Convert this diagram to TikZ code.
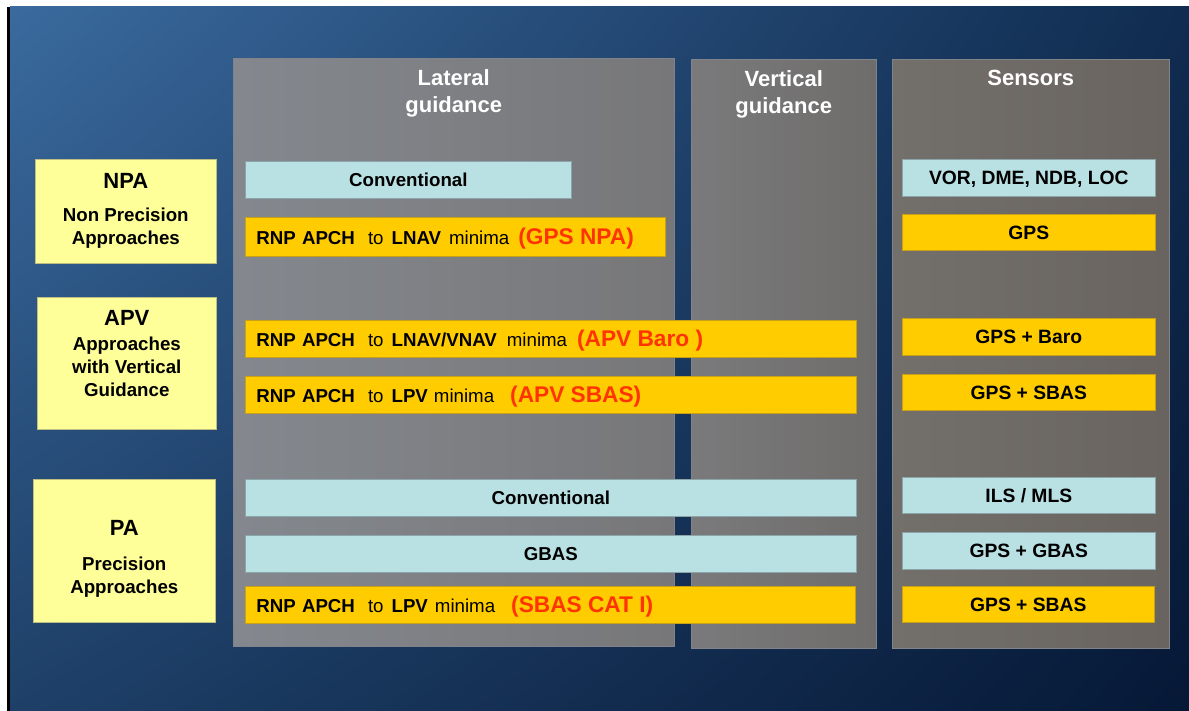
\documentclass[tikz,border=0pt]{standalone}
\usepackage{fontspec}
\setmainfont{Liberation Sans}
\usepackage{xcolor}
\usetikzlibrary{positioning,shadings}
\definecolor{bgtl}{RGB}{58,106,158}
\definecolor{bgtr}{RGB}{16,44,80}
\definecolor{bgbl}{RGB}{30,64,104}
\definecolor{bgbr}{RGB}{6,24,54}
\definecolor{latl}{RGB}{132,136,142}
\definecolor{latr}{RGB}{119,119,121}
\definecolor{vertl}{RGB}{122,122,124}
\definecolor{vertr}{RGB}{111,109,107}
\definecolor{sensl}{RGB}{115,111,107}
\definecolor{sensr}{RGB}{105,100,96}
\definecolor{panelline}{RGB}{128,131,137}
\definecolor{classfill}{RGB}{255,255,153}
\definecolor{classline}{RGB}{190,190,130}
\definecolor{convfill}{RGB}{185,224,227}
\definecolor{convline}{RGB}{140,165,170}
\definecolor{rnpfill}{RGB}{255,204,0}
\definecolor{rnpline}{RGB}{200,160,20}
\definecolor{rnpred}{RGB}{255,51,0}
\newcommand\redtag[1]{{\fontsize{22.7}{22}\selectfont\bfseries\color{rnpred}#1}}
\newcommand\minword[1]{{\mdseries #1}}

\begin{document}
\begin{tikzpicture}[x=1pt,y=-1pt,
 panel/.style={rectangle,draw=panelline,line width=0.5pt,anchor=north west,inner sep=0pt},
 headtext/.style={text=white,font=\fontsize{22}{27}\selectfont\bfseries,align=center},
 classbox/.style={rectangle,draw=classline,fill=classfill,line width=0.6pt,
   anchor=north west,align=center,font=\fontsize{18.7}{23}\selectfont\bfseries},
 convbox/.style={rectangle,draw=convline,fill=convfill,line width=0.6pt,
   anchor=north west,text height=14pt,text depth=0pt,
   font=\fontsize{18.7}{22}\selectfont\bfseries},
 rnpbox/.style={rectangle,draw=rnpline,fill=rnpfill,line width=0.6pt,
   anchor=north west,text height=14pt,text depth=0pt,
   font=\fontsize{18.7}{22}\selectfont\bfseries},
 sensfont/.style={font=\fontsize{19.3}{22}\selectfont\bfseries},
 rnprow/.style={rnpbox,align=left,inner xsep=11pt,text height=16pt}]
 \useasboundingbox (0,0) rectangle (1189,711);
 \fill[white] (0,0) rectangle (1189,711);
 \shade[upper left=bgtl,upper right=bgtr,lower left=bgbl,lower right=bgbr]
   (10,7) rectangle (1189,711);
 \fill[black] (7,7) rectangle (10,711);

 \node[panel,left color=latl,right color=latr,minimum width=441pt,minimum height=588pt]
   (latpanel) at (233,58) {};
 \node[panel,left color=vertl,right color=vertr,minimum width=185pt,minimum height=589pt]
   (vertpanel) at (691,59) {};
 \node[panel,left color=sensl,right color=sensr,minimum width=277pt,minimum height=589pt]
   (senspanel) at (892,59) {};
 \node[headtext,below=8pt of latpanel.north] (lathead) {Lateral\\guidance};
 \node[headtext,below=8pt of vertpanel.north] (verthead) {Vertical\\guidance};
 \node[headtext,below=8pt of senspanel.north] (senshead) {Sensors};

 \node[classbox,minimum width=181pt,minimum height=104pt] (npa) at (35,159)
   {{\fontsize{22}{22}\selectfont NPA}\\[10pt]Non Precision\\Approaches};
 \node[classbox,minimum width=179pt,minimum height=132pt] (apv) at (37,297)
   {{\fontsize{22}{22}\selectfont APV}\\[2pt]Approaches\\with Vertical\\Guidance\\[-3pt]};
 \node[classbox,minimum width=182pt,minimum height=143pt] (pa) at (33,479)
   {{\fontsize{22}{22}\selectfont\rule{0pt}{46pt}PA}\\[12pt]Precision\\Approaches\\[-4pt]};

 \node[convbox,minimum width=326pt,minimum height=37pt] (npaconv) at (245,161) {Conventional};
 \node[rnprow,text width=398pt,minimum height=39pt] (lnavbar) at (245,217)
   {RNP APCH\hspace{13pt}\minword{to}\hspace{8pt}LNAV\hspace{8pt}\minword{minima}\hspace{9pt}\redtag{(GPS NPA)}};
 \node[rnprow,text width=589pt,minimum height=37pt] (vnavbar) at (245,320)
   {RNP APCH\hspace{13pt}\minword{to}\hspace{8pt}LNAV/VNAV\hspace{10pt}\minword{minima}\hspace{10pt}\redtag{(APV Baro )}};
 \node[rnprow,text width=589pt,minimum height=37pt] (lpvbar) at (245,376)
   {RNP APCH\hspace{13pt}\minword{to}\hspace{8pt}LPV\hspace{6pt}\minword{minima}\hspace{16pt}\redtag{(APV SBAS)}};
 \node[convbox,minimum width=611pt,minimum height=37pt] (paconv) at (245,479) {Conventional};
 \node[convbox,minimum width=611pt,minimum height=37pt] (gbasbar) at (245,535) {GBAS};
 \node[rnprow,text width=588pt,minimum height=37pt] (catbar) at (245,586)
   {RNP APCH\hspace{13pt}\minword{to}\hspace{8pt}LPV\hspace{7pt}\minword{minima}\hspace{16pt}\redtag{(SBAS CAT I)}};

 \node[convbox,sensfont,minimum width=253pt,minimum height=37pt] (vorsens) at (902,159)
   {VOR, DME,\ NDB, LOC};
 \node[rnpbox,sensfont,minimum width=253pt,minimum height=36pt] (gpssens) at (902,214) {GPS};
 \node[rnpbox,sensfont,minimum width=253pt,minimum height=37pt] (barosens) at (902,318) {GPS + Baro};
 \node[rnpbox,sensfont,minimum width=253pt,minimum height=36pt] (sbassens) at (902,374) {GPS + SBAS};
 \node[convbox,sensfont,minimum width=253pt,minimum height=36pt] (ilssens) at (902,477) {ILS / MLS};
 \node[convbox,sensfont,minimum width=253pt,minimum height=37pt] (gbassens) at (902,532) {GPS + GBAS};
 \node[rnpbox,sensfont,minimum width=252pt,minimum height=36pt] (catsens) at (902,586) {GPS + SBAS};
\end{tikzpicture}
\end{document}
